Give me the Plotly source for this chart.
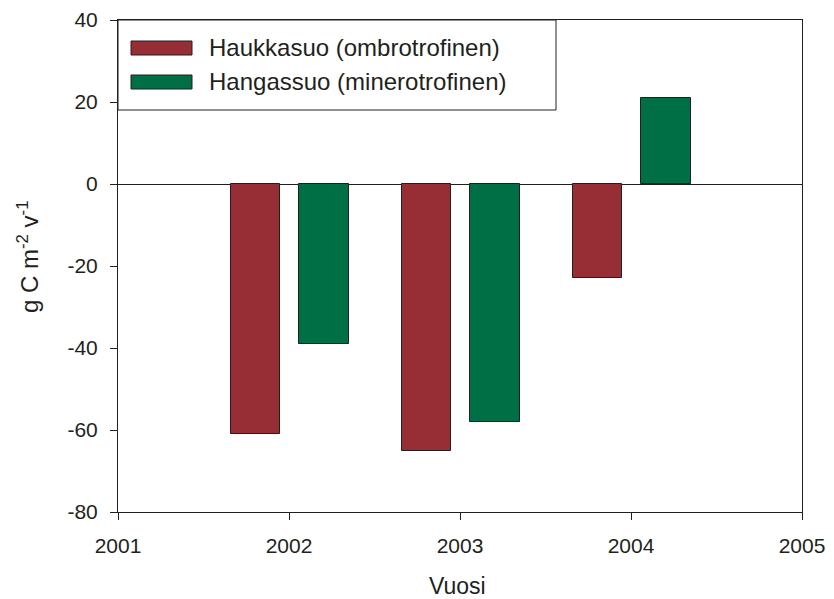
import plotly.graph_objects as go

years = [2002, 2003, 2004]
series_names = ["Haukkasuo (ombrotrofinen)", "Hangassuo (minerotrofinen)"]
haukkasuo = [-61, -65, -23]
hangassuo = [-39, -58, 21]
colors = ["#972e35", "#006f46"]
x_ticks = [2001, 2002, 2003, 2004, 2005]
y_ticks = [-80, -60, -40, -20, 0, 20, 40]
y_ticktext = ["-80", "-60", "-40", "-20", "0", "20", "40"]

FONT = "Liberation Sans, Arial, sans-serif"
AX = "#231f20"
PW, PH = 684, 492

fig = go.Figure()
fig.add_trace(go.Bar(x=years, y=haukkasuo, name=series_names[0], width=0.29, offset=-0.34,
                     marker=dict(color=colors[0], line=dict(color=AX, width=1)), showlegend=False))
fig.add_trace(go.Bar(x=years, y=hangassuo, name=series_names[1], width=0.29, offset=0.06,
                     marker=dict(color=colors[1], line=dict(color=AX, width=1)), showlegend=False))

# legend box drawn manually
fig.add_shape(type="rect", xref="paper", yref="paper", x0=0, x1=438 / PW, y0=1 - 90 / PH, y1=1,
              line=dict(color=AX, width=1), fillcolor="white", layer="above")
for i, (nm, c) in enumerate(zip(series_names, colors)):
    yc = 1 - (28 + 34 * i) / PH
    fig.add_shape(type="rect", xref="paper", yref="paper",
                  x0=13 / PW, x1=74 / PW, y0=yc - 7 / PH, y1=yc + 7 / PH,
                  fillcolor=c, line=dict(color=AX, width=1), layer="above")
    fig.add_annotation(xref="paper", yref="paper", x=89 / PW, y=yc, text=nm, showarrow=False,
                       xanchor="left", yanchor="middle", font=dict(size=24, color=AX, family=FONT))

# axis titles
fig.add_annotation(xref="paper", yref="paper", x=0, y=0.5, xshift=-90, yshift=9,
                   text="g C m<sup>-2</sup> v<sup>-1</sup>", textangle=-90, showarrow=False,
                   xanchor="center", yanchor="middle", font=dict(size=24, color=AX, family=FONT))
fig.add_annotation(xref="paper", yref="paper", x=0, y=0, yshift=-74, xshift=339,
                   text="Vuosi", showarrow=False,
                   xanchor="center", yanchor="middle", font=dict(size=23, color=AX, family=FONT))

# page body has an 8px margin, so the figure is drawn 8px smaller and 8px inset
fig.update_layout(
    width=826, height=591,
    margin=dict(l=110, r=32, t=12, b=87),
    plot_bgcolor="white", paper_bgcolor="white",
    font=dict(family=FONT, color=AX, size=21),
    bargap=0,
)
fig.update_xaxes(range=[2001, 2005], tickvals=x_ticks, ticks="outside", ticklen=7, tickcolor=AX,
                 showline=True, linecolor=AX, linewidth=1, mirror=True, showgrid=False, zeroline=False,
                 ticklabelstandoff=8, automargin=False)
fig.update_yaxes(range=[-80, 40], tickvals=y_ticks, ticktext=y_ticktext, ticks="outside", ticklen=7,
                 tickcolor=AX, showline=True, linecolor=AX, linewidth=1, mirror=True, showgrid=False,
                 zeroline=True, zerolinecolor=AX, zerolinewidth=1, ticklabelstandoff=8, automargin=False)

fig.write_html("out.html")
